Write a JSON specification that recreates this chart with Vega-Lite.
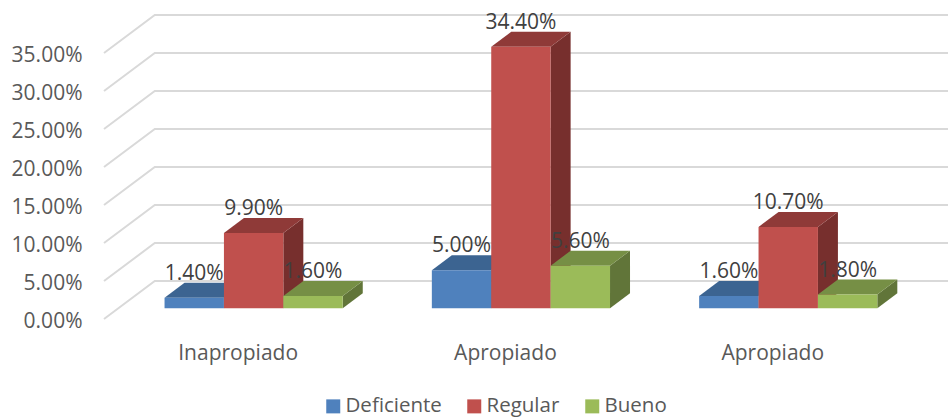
{
"$schema":"https://vega.github.io/schema/vega-lite/v6.json",
"width":844,"height":304,
"autosize":{"type":"none"},
"padding":{"left":104,"top":15,"right":0,"bottom":99},
"background":"white",
"config":{"view":{"stroke":null},"font":"Open Sans"},
"data":{"values":[
{"grupo":0,"categoria":"Inapropiado","serie":"Deficiente","valor":0.014},
{"grupo":0,"categoria":"Inapropiado","serie":"Regular","valor":0.099},
{"grupo":0,"categoria":"Inapropiado","serie":"Bueno","valor":0.016},
{"grupo":1,"categoria":"Apropiado","serie":"Deficiente","valor":0.05},
{"grupo":1,"categoria":"Apropiado","serie":"Regular","valor":0.344},
{"grupo":1,"categoria":"Apropiado","serie":"Bueno","valor":0.056},
{"grupo":2,"categoria":"Apropiado","serie":"Deficiente","valor":0.016},
{"grupo":2,"categoria":"Apropiado","serie":"Regular","valor":0.107},
{"grupo":2,"categoria":"Apropiado","serie":"Bueno","valor":0.018}
]},
"transform":[
{"calculate":"indexof(['Deficiente','Regular','Bueno'],datum.serie)","as":"i"},
{"calculate":"datum.grupo+0.2265+datum.i*0.2222","as":"x0"},
{"calculate":"datum.x0+0.2222","as":"x1"},
{"calculate":"datum.valor+0.0141","as":"yf"},
{"calculate":"datum.grupo+'-'+datum.i","as":"id"},
{"calculate":"(datum.x0+datum.x1)/2","as":"xc"}
],
"layer":[
{
"data":{"values":[{"tick":0},{"tick":0.05},{"tick":0.1},{"tick":0.15},{"tick":0.2},{"tick":0.25},{"tick":0.3},{"tick":0.35}]},
"transform":[
{"calculate":"[0,1,2]","as":"t"},
{"flatten":["t"]},
{"calculate":"[0,0.19,3.1575][datum.t]","as":"gx"},
{"calculate":"datum.tick+(datum.t>0?0.05:0)","as":"gy"}
],
"mark":{"type":"line","color":"#D9D9D9","strokeWidth":2,"clip":false},
"encoding":{
"x":{"field":"gx","type":"quantitative","scale":{"domain":[0,3.1575],"nice":false,"zero":false},
"axis":{"values":[0.5,1.5,2.5],"labelExpr":"datum.value<1?'Inapropiado':'Apropiado'","title":null,"grid":false,"domain":false,"ticks":false,"labelPadding":23,"labelFontSize":21,"labelColor":"#595959","labelFont":"Open Sans"}},
"y":{"field":"gy","type":"quantitative","scale":{"domain":[0,0.4],"nice":false,"zero":false},
"axis":{"values":[0,0.05,0.1,0.15,0.2,0.25,0.3,0.35],"format":".2%","title":null,"grid":false,"domain":false,"ticks":false,"labelPadding":22,"labelOffset":2,"labelFontSize":21,"labelColor":"#595959","labelFont":"Open Sans"}},
"detail":{"field":"tick"}
}
},
{
"transform":[
{"calculate":"[0,1]","as":"t"},
{"flatten":["t"]},
{"calculate":"datum.x1+datum.t*0.0748","as":"sx"},
{"calculate":"datum.yf+datum.t*0.01974","as":"sy"},
{"calculate":"0.0141+datum.t*0.01974","as":"sy2"}
],
"mark":{"type":"area","orient":"vertical"},
"encoding":{
"x":{"field":"sx","type":"quantitative"},
"y":{"field":"sy","type":"quantitative","stack":null},
"y2":{"field":"sy2"},
"detail":{"field":"id"},
"color":{"field":"serie","type":"nominal","legend":null,"scale":{"domain":["Deficiente","Regular","Bueno"],"range":["#2F5077","#772F2D","#617539"]}}
}
},
{
"transform":[
{"calculate":"[0,1]","as":"t"},
{"flatten":["t"]},
{"calculate":"datum.x0+datum.t*0.0748","as":"tx"},
{"calculate":"datum.x1+datum.t*0.0748","as":"tx2"},
{"calculate":"datum.yf+datum.t*0.01974","as":"ty"}
],
"mark":{"type":"area","orient":"horizontal"},
"encoding":{
"y":{"field":"ty","type":"quantitative"},
"x":{"field":"tx","type":"quantitative","stack":null},
"x2":{"field":"tx2"},
"detail":{"field":"id"},
"color":{"field":"serie","type":"nominal","legend":null,"scale":{"domain":["Deficiente","Regular","Bueno"],"range":["#3C6491","#8F3A38","#768F45"]}}
}
},
{
"mark":{"type":"rect"},
"encoding":{
"x":{"field":"x0","type":"quantitative"},
"x2":{"field":"x1"},
"y":{"field":"yf","type":"quantitative"},
"y2":{"datum":0.0141},
"color":{"field":"serie","type":"nominal","scale":{"domain":["Deficiente","Regular","Bueno"],"range":["#4F81BD","#C0504D","#9BBB59"]},
"legend":{"orient":"none","legendX":219,"legendY":381,"direction":"horizontal","title":null,"symbolType":"square","symbolSize":196,"symbolStrokeWidth":0,"labelFontSize":20.5,"labelColor":"#595959","labelFont":"Open Sans","columnPadding":22,"labelOffset":2}}
}
},
{
"mark":{"type":"text","fontSize":21,"color":"#404040","font":"Open Sans","dy":-24,"baseline":"middle","align":"center"},
"encoding":{
"x":{"field":"xc","type":"quantitative"},
"y":{"field":"yf","type":"quantitative"},
"text":{"field":"valor","type":"quantitative","format":".2%"}
}
}
],
"resolve":{"scale":{"color":"independent"}}
}
